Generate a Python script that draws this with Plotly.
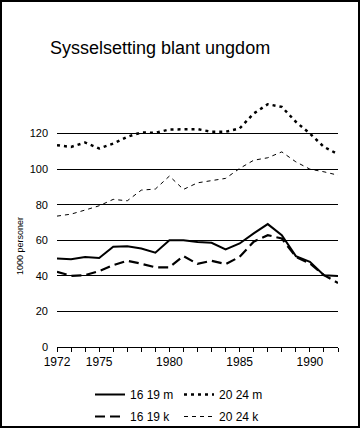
import plotly.graph_objects as go

years = list(range(1972, 1993))
m16_19 = [49.8, 49.4, 50.6, 50.0, 56.4, 56.7, 55.4, 53.0, 60.0, 60.0, 59.0,
          58.6, 54.9, 58.2, 63.9, 69.1, 62.9, 51.1, 47.9, 40.4, 39.9]
k16_19 = [42.3, 40.0, 40.4, 42.7, 46.0, 48.5, 46.8, 44.8, 44.8, 51.1, 46.7,
          48.5, 46.6, 50.7, 59.2, 62.9, 61.0, 50.7, 47.0, 40.4, 36.0]
m20_24 = [113.5, 112.5, 115.0, 111.6, 114.4, 118.2, 120.6, 120.4, 122.3, 122.5, 122.5,
          121.0, 121.0, 122.9, 131.3, 136.5, 135.0, 126.6, 120.0, 112.5, 108.4]
k20_24 = [73.6, 74.7, 77.0, 79.4, 83.0, 82.2, 88.2, 88.8, 96.1, 88.6, 92.3,
          93.4, 94.8, 100.4, 105.0, 106.4, 109.7, 104.1, 100.0, 98.5, 96.6]

names = ["16 19 m", "20 24 m", "16 19 k", "20 24 k"]
x_labels = {1972: "1972", 1975: "1975", 1980: "1980", 1985: "1985", 1990: "1990"}
y_ticks = [0, 20, 40, 60, 80, 100, 120]

title = "Sysselsetting blant ungdom"
y_title = "1000 personer"

FONT = "Liberation Sans, Arial, sans-serif"

fig = go.Figure()
fig.add_trace(go.Scatter(x=years, y=m16_19, name=names[0], mode="lines", legend="legend",
                         line=dict(color="black", width=2, dash="solid")))
fig.add_trace(go.Scatter(x=years, y=m20_24, name=names[1], mode="lines", legend="legend",
                         line=dict(color="black", width=2.5, dash="3px,4px")))
fig.add_trace(go.Scatter(x=years, y=k16_19, name=names[2], mode="lines", legend="legend2",
                         line=dict(color="black", width=2.2, dash="10px,5px")))
fig.add_trace(go.Scatter(x=years, y=k20_24, name=names[3], mode="lines", legend="legend2",
                         line=dict(color="black", width=1, dash="4px,4px")))

W, H = 360, 428
L, R, T, B = 57, 22, 98, 81
pw, ph = W - L - R, H - T - B

def px_x(p):
    return (p - L) / pw

def px_y(p):
    return (H - B - p) / ph

leg_common = dict(orientation="h", xanchor="left", yanchor="top",
                  font=dict(size=12, family=FONT, color="black"),
                  entrywidth=44, entrywidthmode="pixels",
                  bgcolor="rgba(0,0,0,0)", traceorder="normal")

fig.update_layout(
    width=W, height=H,
    margin=dict(l=L, r=R, t=T, b=B, autoexpand=False),
    paper_bgcolor="white", plot_bgcolor="white",
    font=dict(family=FONT, color="black"),
    title=dict(text=title, x=50 / W, xanchor="left", y=1 - 48 / H, yanchor="middle",
               font=dict(size=18, family=FONT, color="black")),
    showlegend=True,
    legend=dict(x=px_x(90), y=px_y(380), **leg_common),
    legend2=dict(x=px_x(90), y=px_y(402), **leg_common),
    xaxis=dict(range=[1972, 1992], tickmode="array", tickvals=years,
               ticktext=[x_labels.get(y, "") for y in years],
               ticks="outside", ticklen=4, tickcolor="black", tickwidth=1,
               showline=True, linecolor="black", linewidth=1,
               showgrid=False, zeroline=False, automargin=False,
               tickfont=dict(size=12, family=FONT, color="black")),
    yaxis=dict(range=[0, 140], tickmode="array", tickvals=y_ticks,
               ticks="", showline=False, showgrid=True, gridcolor="black", gridwidth=1,
               zeroline=False, ticklabelstandoff=8, automargin=False,
               tickfont=dict(size=11, family=FONT, color="black")),
    annotations=[dict(text=y_title, xref="paper", yref="paper", x=px_x(20), y=px_y(246),
                      textangle=-90, showarrow=False, xanchor="center", yanchor="middle",
                      font=dict(size=9, family=FONT, color="black"))],
    shapes=[dict(type="rect", xref="paper", yref="paper",
                 x0=px_x(1), x1=px_x(359), y0=px_y(1), y1=px_y(427),
                 line=dict(color="black", width=2), fillcolor="rgba(0,0,0,0)")],
)

fig.write_html("out.html", config={"displayModeBar": False},
               post_script="document.body.style.margin='0';document.body.style.overflow='hidden';")
